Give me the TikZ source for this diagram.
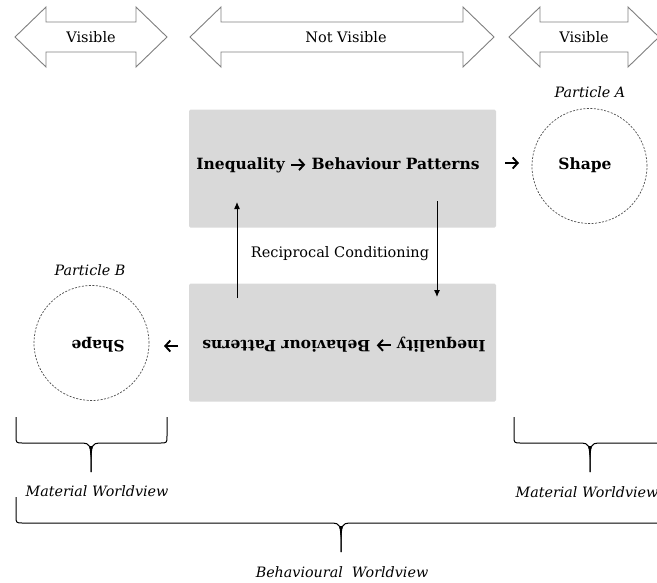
\documentclass[tikz,border=0pt]{standalone}
\usepackage{fontspec}
\setmainfont{DejaVu Serif}
\usetikzlibrary{arrows.meta}
\definecolor{boxgray}{HTML}{D9D9D9}
\definecolor{bannerline}{HTML}{7F7F7F}
\definecolor{circline}{HTML}{4D4D4D}
% bold chevron arrow used inside the box titles and beside the particles
\newcommand\rarr{\tikz[baseline=-4.5pt, x=1pt, y=1pt]
  \draw[line width=1.9pt, -{Straight Barb[length=5pt,width=11pt]}] (0,0) -- (14,0);}
% outline of a horizontal double-headed banner arrow from x=#1 to x=#2
\newcommand\dblarrow[2]{%
  \draw[banner] (#1,37) -- (#1+31,7) -- (#1+31,22) -- (#2-31,22) -- (#2-31,7)
    -- (#2,37) -- (#2-31,67) -- (#2-31,52) -- (#1+31,52) -- (#1+31,67) -- cycle;}
% curly brace opening downwards: left x, right x, top y, bar y, middle x, tip y
\newcommand\wbrace[6]{%
  \draw[bracepen] (#1,#3) -- (#1,#4-7) .. controls (#1,#4) .. (#1+7,#4)
    -- (#5-8,#4) .. controls (#5-2,#4) and (#5,#4+4) .. (#5,#4+12) -- (#5,#6);
  \draw[bracepen] (#2,#3) -- (#2,#4-7) .. controls (#2,#4) .. (#2-7,#4)
    -- (#5+8,#4) .. controls (#5+2,#4) and (#5,#4+4) .. (#5,#4+12) -- (#5,#6);
  \fill (#5-1.6,#4+3) -- (#5+1.6,#4+3) -- (#5,#4+16) -- cycle;}
\begin{document}
\begin{tikzpicture}[x=1pt,y=-1pt,
  banner/.style={draw=bannerline, line width=0.9pt, line join=miter},
  graybox/.style={fill=boxgray, rounded corners=1.5pt, minimum width=307pt,
    minimum height=118pt, inner sep=0pt},
  particle/.style={circle, draw=circline, dashed, dash pattern=on 2pt off 1.5pt,
    line width=0.7pt, minimum size=115pt, inner sep=0pt},
  plain/.style={font=\fontsize{14.5}{17}\selectfont, inner sep=0pt},
  heavy/.style={font=\fontsize{15.5}{18}\selectfont\bfseries, inner sep=0pt},
  caption/.style={font=\fontsize{14.3}{17}\selectfont\itshape, inner sep=0pt},
  flow/.style={line width=1pt, -{Latex[length=7pt,width=6pt]}},
  bracepen/.style={line width=1pt, line join=round}]
\useasboundingbox (0,0) rectangle (657,582);
\clip (0,0) rectangle (657,582);

% visibility banners
\dblarrow{15}{167}
\dblarrow{190}{494}
\dblarrow{509}{659}
\node[plain] (vis1) at (91,37) {Visible};
\node[plain] (nvis) at (346,37) {Not Visible};
\node[plain] (vis2) at (584,37) {Visible};

% behaviour boxes
\node[graybox] (upper) at (342.5,168.5) {};
\node[graybox] (lower) at (342.5,342.5) {};
\node[heavy] (upt) at (338,165) {Inequality \rarr{} Behaviour Patterns};
\node[heavy, rotate=180] (lowt) at (344,345) {Inequality \rarr{} Behaviour Patterns};

% reciprocal conditioning
\coordinate (upS) at (237,298);
\coordinate (upE) at (237,202);
\coordinate (dnS) at (437,201);
\coordinate (dnE) at (437,297);
\draw[flow] (upS) -- (upE);
\draw[flow] (dnS) -- (dnE);
\node[plain] (recip) at (340,254) {Reciprocal Conditioning};

% particles
\node[caption] (pA) at (590,92) {Particle A};
\node[particle] (cA) at (589.5,166) {};
\node[heavy] (shA) at (585,165) {Shape};
\node[heavy] (arA) at (512,163) {\rarr};

\node[caption] (pB) at (90,270) {Particle B};
\node[particle] (cB) at (91.5,343) {};
\node[heavy, rotate=180] (shB) at (98,345) {Shape};
\node[heavy, rotate=180] (arB) at (171,346) {\rarr};

% worldview braces
\wbrace{16}{167}{417}{443}{91}{472}
\wbrace{514}{666}{417}{443}{590}{472}
\wbrace{16}{666}{497}{523}{341}{552}
\node[caption] (mw1) at (97,491) {Material Worldview};
\node[caption] (mw2) at (587,492) {Material Worldview};
\node[caption] (bw) at (342,572) {Behavioural\ \ Worldview};
\end{tikzpicture}
\end{document}
